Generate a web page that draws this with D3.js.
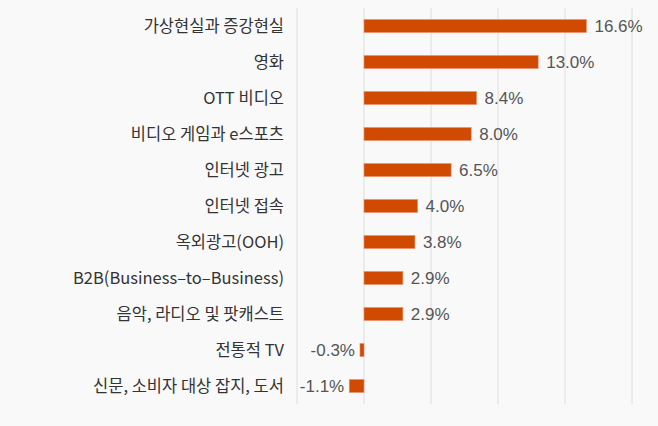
<!DOCTYPE html>
<html>
<head>
<meta charset="utf-8">
<script src="https://cdn.jsdelivr.net/npm/d3@7"></script>
<style>
  body { margin: 0; background: #f9f9f9; }
  svg { display: block; }
</style>
</head>
<body>
<div id="chart"></div>
<script>
// categories and growth rates (%)
const categories = [
  "가상현실과 증강현실", "영화", "OTT 비디오", "비디오 게임과 e스포츠", "인터넷 광고",
  "인터넷 접속", "옥외광고(OOH)", "B2B(Business–to–Business)", "음악, 라디오 및 팟캐스트",
  "전통적 TV", "신문, 소비자 대상 잡지, 도서"
];
const values = [16.6, 13.0, 8.4, 8.0, 6.5, 4.0, 3.8, 2.9, 2.9, -0.3, -1.1];
const gridTicks = [-5, 0, 5, 10, 15, 20];

const width = 658, height = 426;
const svg = d3.select("#chart").append("svg")
    .attr("width", width)
    .attr("height", height);

svg.append("rect").attr("width", width).attr("height", height).attr("fill", "#f9f9f9");

let x = d3.scaleLinear().domain([-5, 20]).range([297, 632]);
let y = d3.scaleBand().domain(categories).range([8, 404]).paddingInner(0.64).paddingOuter(0.32);

// vertical grid lines
svg.append("g")
  .selectAll("line")
  .data(gridTicks)
  .enter()
    .append("line")
    .attr("x1", d => x(d)).attr("x2", d => x(d))
    .attr("y1", 8).attr("y2", 404)
    .attr("stroke", "#dedede")
    .attr("stroke-width", 1);

// bars
svg.append("g")
  .selectAll("rect")
  .data(values)
  .enter()
    .append("rect")
    .attr("x", d => x(Math.min(0, d)))
    .attr("y", (d, i) => y(categories[i]))
    .attr("width", d => Math.abs(x(d) - x(0)))
    .attr("height", y.bandwidth())
    .attr("fill", "#d04a02")
    .attr("stroke", "#e8906a")
    .attr("stroke-width", 0.6);

// value labels
svg.append("g")
  .selectAll("text")
  .data(values)
  .enter()
    .append("text")
    .attr("x", d => d >= 0 ? x(d) + 8 : x(d) - 5)
    .attr("y", (d, i) => y(categories[i]) + y.bandwidth() / 2)
    .attr("dy", "0.36em")
    .attr("text-anchor", d => d >= 0 ? "start" : "end")
    .attr("font-family", "'Liberation Sans', Arial, sans-serif")
    .attr("font-size", 17)
    .attr("fill", "#555")
    .text(d => d.toFixed(1) + "%");

// category labels (left axis)
let yAxis = d3.axisLeft(y).tickSize(0).tickPadding(0);
let gy = svg.append("g")
    .attr("transform", "translate(284,0)")
    .call(yAxis);
gy.select(".domain").remove();
gy.selectAll("text")
    .attr("font-family", "'Noto Sans CJK KR', sans-serif")
    .attr("font-size", 16.5)
    .attr("dy", "0.34em")
    .attr("fill", "#333");
</script>
</body>
</html>
